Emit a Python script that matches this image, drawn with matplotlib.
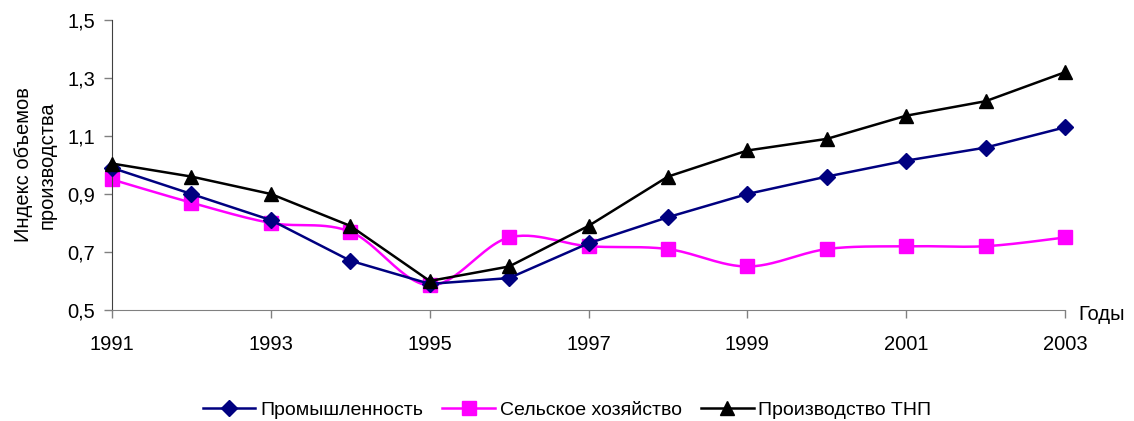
import numpy as np
import matplotlib.pyplot as plt

plt.rcParams['font.family'] = ['Liberation Sans', 'DejaVu Sans']

years = [1991, 1992, 1993, 1994, 1995, 1996, 1997, 1998, 1999, 2000, 2001, 2002, 2003]
industry = [0.99, 0.90, 0.81, 0.67, 0.59, 0.61, 0.73, 0.82, 0.90, 0.96, 1.015, 1.06, 1.13]
agriculture = [0.95, 0.87, 0.80, 0.77, 0.585, 0.75, 0.72, 0.71, 0.65, 0.71, 0.72, 0.72, 0.75]
tnp = [1.005, 0.96, 0.90, 0.79, 0.60, 0.65, 0.79, 0.96, 1.05, 1.09, 1.17, 1.22, 1.32]

labels = ['Промышленность', 'Сельское хозяйство', 'Производство ТНП']
y_ticks = [0.5, 0.7, 0.9, 1.1, 1.3, 1.5]
x_ticks = [1991, 1993, 1995, 1997, 1999, 2001, 2003]


def smooth(x, y, n=30):
    # bezier smoothing like the spreadsheet "smoothed line"
    x = np.asarray(x, float)
    y = np.asarray(y, float)
    px = np.concatenate([[x[0]], x, [x[-1]]])
    py = np.concatenate([[y[0]], y, [y[-1]]])
    xs, ys = [], []
    t = np.linspace(0, 1, n)
    for i in range(1, len(px) - 2):
        p0 = np.array([px[i], py[i]])
        p3 = np.array([px[i + 1], py[i + 1]])
        c1 = p0 + (np.array([px[i + 1], py[i + 1]]) - np.array([px[i - 1], py[i - 1]])) / 6
        c2 = p3 - (np.array([px[i + 2], py[i + 2]]) - np.array([px[i], py[i]])) / 6
        b = ((1 - t) ** 3)[:, None] * p0 + (3 * (1 - t) ** 2 * t)[:, None] * c1 \
            + (3 * (1 - t) * t ** 2)[:, None] * c2 + (t ** 3)[:, None] * p3
        xs.extend(b[:, 0])
        ys.extend(b[:, 1])
    return xs, ys


fig = plt.figure(figsize=(11.34, 4.21), dpi=100)
ax = fig.add_axes([0.0988, 0.2637, 0.8404, 0.6888])

ax.plot(years, industry, color='#000080', lw=1.8, marker='D', ms=8, label=labels[0], zorder=3)
sx, sy = smooth(years, agriculture)
ax.plot(sx, sy, color='#FF00FF', lw=1.8, zorder=2)
ax.plot(years, agriculture, color='#FF00FF', lw=0, marker='s', ms=9.5, zorder=2)
ax.plot([], [], color='#FF00FF', lw=1.8, marker='s', ms=9.5, label=labels[1])
ax.plot(years, tnp, color='black', lw=1.8, marker='^', ms=10, label=labels[2], zorder=4)

ax.set_xlim(1991, 2003)
ax.set_ylim(0.5, 1.5)
ax.set_xticks(x_ticks)
ax.set_yticks(y_ticks)
ax.set_yticklabels([('%.1f' % v).replace('.', ',') for v in y_ticks])
ax.tick_params(axis='both', labelsize=14.5, length=6, width=1, color='#808080')
ax.tick_params(axis='x', pad=12)
ax.tick_params(axis='y', pad=6)

for s in ['top', 'right']:
    ax.spines[s].set_visible(False)
ax.spines['left'].set_color('#404040')
ax.spines['bottom'].set_color('#808080')
for s in ax.spines.values():
    s.set_clip_on(False)
for line in ax.lines:
    line.set_clip_on(False)

ax.set_ylabel('Индекс объемов\nпроизводства', fontsize=14.5, labelpad=8, linespacing=1.3)
ax.text(1.0136, -0.015, 'Годы', transform=ax.transAxes, fontsize=14.5, ha='left', va='center')

fig.legend(loc='center', bbox_to_anchor=(0.5, 0.026), ncol=3, frameon=False,
           fontsize=14, handlelength=2.7, handletextpad=0.25, columnspacing=1.0)

fig.savefig('out.png', dpi=100)
